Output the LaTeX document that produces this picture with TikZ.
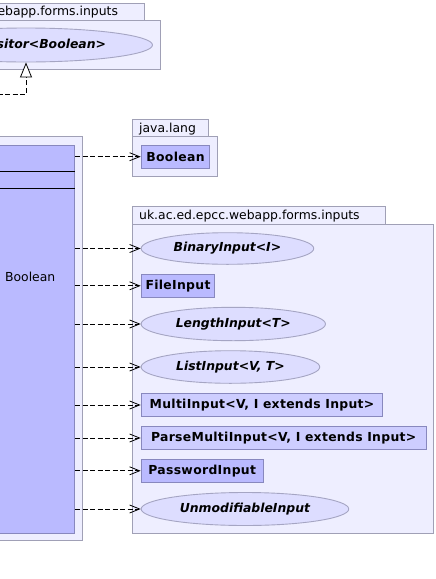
\documentclass[tikz,border=0pt]{standalone}
\usepackage{fontspec}
\setmainfont{DejaVu Sans}
\usepackage{tikz}
\usetikzlibrary{arrows.meta,shapes.geometric}

\definecolor{pkgfill}{RGB}{238,238,255}
\definecolor{pkgline}{RGB}{160,160,182}
\definecolor{clsfill}{RGB}{186,186,255}
\definecolor{clslite}{RGB}{205,205,255}
\definecolor{clsline}{RGB}{136,136,190}
\definecolor{ifcfill}{RGB}{221,221,255}
\definecolor{ifcline}{RGB}{165,165,195}

\newcommand\umlfont{\fontsize{12.4}{14}\selectfont}

\tikzset{
  pkg/.style={draw=pkgline, fill=pkgfill, line width=1pt},
  pkglabel/.style={anchor=base west, inner sep=0pt, font=\umlfont},
  clsbox/.style={draw=clsline, fill=clsfill, line width=1pt, anchor=west,
    minimum height=23pt, inner xsep=3pt, inner ysep=0pt,
    font=\bfseries\umlfont\addfontfeature{LetterSpace=2.5}},
  ifcbox/.style={ellipse, draw=ifcline, fill=ifcfill, line width=0.9pt, anchor=west,
    inner sep=0pt, font=\bfseries\itshape\umlfont},
  dep/.style={line width=0.8pt, dash pattern=on 5pt off 2.5pt,
    -{Straight Barb[length=10pt,width=8pt]}},
  real/.style={line width=0.8pt, dash pattern=on 5pt off 2.5pt,
    -{Triangle[open,fill=white,length=15pt,width=12pt]}}
}

\begin{document}
\begin{tikzpicture}[x=1pt,y=1pt,yscale=-1,xscale=1]
\useasboundingbox (0,0) rectangle (436,579);
\clip (0,0) rectangle (436,579);

%Package: inputs (top)
\draw[pkg] (-110,3) rectangle (144,20);
\draw[pkg] (-110,20) rectangle (160.6,69);
\node[pkglabel] (pkgtop) at (-102.7,15.5) {uk.ac.ed.epcc.webapp.forms.inputs};
\node[ifcbox, anchor=center, minimum width=253pt, minimum height=34pt] (ivisit) at (26,45) {InputVisitor<Boolean>};

%Package: class (left)
\draw[pkg] (-140,136.7) rectangle (82,540.7);
\node[clsbox, anchor=center, minimum width=194.7pt, minimum height=388pt] (visitor) at (-22.65,339) {};
\draw[line width=1pt] (visitor.west |- 0,171.3) -- (visitor.east |- 0,171.3);
\draw[line width=1pt] (visitor.west |- 0,188.3) -- (visitor.east |- 0,188.3);
\node[anchor=east, inner sep=0pt, font=\umlfont] (rettype) at (55.5,277) {Boolean};

%Realization
\coordinate (reoff) at (-10,94);
\draw[real] (reoff) -| (ivisit.south);

%Package: java.lang
\draw[pkg] (132,119.3) rectangle (208,136);
\draw[pkg] (132,136) rectangle (217.7,176);
\node[pkglabel] (pkgjava) at (139,132) {java.lang};
\node[clsbox, minimum width=68.6pt] (jbool) at (140.7,156.7) {Boolean};

%Package: uk.ac.ed.epcc.webapp.forms.inputs
\draw[pkg] (132,206.7) rectangle (385.7,224.3);
\draw[pkg] (132,224.3) rectangle (433.7,533.3);
\node[pkglabel] (pkginp) at (139,219.5) {uk.ac.ed.epcc.webapp.forms.inputs};

\node[ifcbox, minimum width=172.6pt, minimum height=31.6pt] (binary) at (140.7,248.5) {BinaryInput<I>};
\node[clsbox, minimum width=73.6pt] (file) at (140.7,285.8) {FileInput};
\node[ifcbox, minimum width=184.3pt, minimum height=33.4pt] (length) at (140.7,324) {LengthInput<T>};
\node[ifcbox, minimum width=178.6pt, minimum height=32.6pt] (list) at (140.7,367) {ListInput<V, T>};
\node[clsbox, fill=clslite, minimum width=241.6pt] (multi) at (140.7,405) {MultiInput<V, I extends Input>};
\node[clsbox, fill=clslite, minimum width=285pt] (parse) at (140.7,438) {ParseMultiInput<V, I extends Input>};
\node[clsbox, minimum width=122pt] (password) at (140.7,470.8) {PasswordInput};
\node[ifcbox, minimum width=207.6pt, minimum height=33pt] (unmod) at (140.7,509) {UnmodifiableInput};

%Dependencies
\foreach \t in {jbool,binary,file,length,list,multi,parse,password,unmod}
  \draw[dep] (visitor.east |- \t.west) -- (\t.west);

\end{tikzpicture}
\end{document}
